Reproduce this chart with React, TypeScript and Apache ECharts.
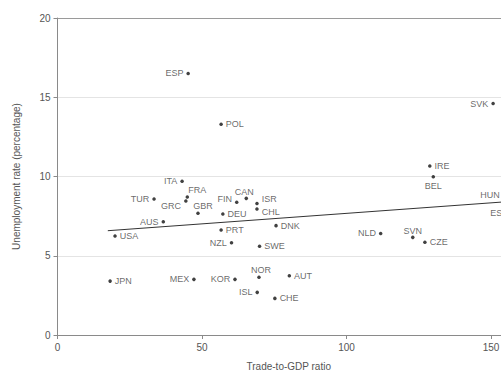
import React, { useEffect, useRef } from "react";
import * as echarts from "echarts";

// ---- Data ----
const countries = [
  "ESP", "POL", "SVK", "ITA", "FRA", "GRC", "TUR", "GBR", "AUS", "USA",
  "FIN", "CAN", "ISR", "CHL", "DEU", "PRT", "DNK", "NZL", "SWE", "JPN",
  "MEX", "KOR", "ISL", "NOR", "AUT", "CHE", "NLD", "SVN", "CZE", "IRE",
  "BEL", "HUN", "EST",
];
const tradeToGdp = [
  45.2, 56.6, 150.7, 43.1, 44.9, 44.4, 33.4, 48.6, 36.6, 19.9,
  62.0, 65.3, 69.0, 69.0, 57.2, 56.6, 75.6, 60.2, 69.9, 18.2,
  47.2, 61.4, 69.1, 69.7, 80.2, 75.2, 111.8, 122.9, 127.1, 128.8,
  130.0, 154.6, 157.4,
];
const unemployment = [
  16.5, 13.3, 14.6, 9.7, 8.7, 8.45, 8.58, 7.68, 7.15, 6.25,
  8.37, 8.62, 8.3, 7.95, 7.63, 6.62, 6.9, 5.82, 5.6, 3.4,
  3.51, 3.51, 2.69, 3.64, 3.74, 2.31, 6.41, 6.16, 5.85, 10.66,
  9.99, 8.83, 7.7,
];
const trendX = [17.4, 160];
const trendY = [6.58, 8.47];
const xTicks = { min: 0, max: 160, interval: 50 };
const yTicks = { min: 0, max: 20, interval: 5 };

// label placement (style, not data)
const labelPlacement: Record<string, { position: string; offset?: number[] }> = {
  ESP: { position: "left" },
  POL: { position: "right" },
  SVK: { position: "left" },
  ITA: { position: "left" },
  FRA: { position: "top", offset: [10, 2] },
  GRC: { position: "left", offset: [0, 5] },
  TUR: { position: "left" },
  GBR: { position: "top", offset: [5, 2] },
  AUS: { position: "left" },
  USA: { position: "right" },
  FIN: { position: "left", offset: [0, -3] },
  CAN: { position: "top", offset: [-2, 3] },
  ISR: { position: "right", offset: [0, -4] },
  CHL: { position: "right", offset: [0, 3] },
  DEU: { position: "right" },
  PRT: { position: "right" },
  DNK: { position: "right" },
  NZL: { position: "left" },
  SWE: { position: "right" },
  JPN: { position: "right" },
  MEX: { position: "left" },
  KOR: { position: "left" },
  ISL: { position: "left" },
  NOR: { position: "top", offset: [2, 2] },
  AUT: { position: "right" },
  CHE: { position: "right" },
  NLD: { position: "left" },
  SVN: { position: "top", offset: [0, 3] },
  CZE: { position: "right" },
  IRE: { position: "right" },
  BEL: { position: "bottom" },
  HUN: { position: "left" },
  EST: { position: "left" },
};

const FONT = "'Liberation Sans', Arial, Helvetica, sans-serif";

export default function App() {
  const ref = useRef<HTMLDivElement>(null);
  useEffect(() => {
    if (!ref.current) return;
    const chart = echarts.init(ref.current, undefined, { renderer: "svg" });
    const points = countries.map((c, i) => {
      const lp = labelPlacement[c] || { position: "right" };
      return {
        name: c,
        value: [tradeToGdp[i], unemployment[i]],
        label: {
          show: true,
          position: lp.position,
          offset: lp.offset || [0, 0],
          distance: 3,
        },
      };
    });
    chart.setOption({
      animation: false,
      backgroundColor: "#ffffff",
      textStyle: { fontFamily: FONT },
      grid: { left: 57.5, top: 18, bottom: 42, right: 40 },
      xAxis: [
        {
          type: "value",
          min: xTicks.min,
          max: xTicks.max,
          interval: xTicks.interval,
          name: "Trade-to-GDP ratio",
          nameLocation: "middle",
          nameGap: 26,
          nameTextStyle: { fontFamily: FONT, fontSize: 10, color: "#555" },
          axisLine: { show: true, lineStyle: { color: "#8a8a8a", width: 1 } },
          axisTick: { show: true, length: 4, lineStyle: { color: "#8a8a8a" } },
          axisLabel: {
            fontFamily: FONT,
            fontSize: 10,
            color: "#555",
            margin: 7,
            showMaxLabel: false,
          },
          splitLine: { show: false },
        },
        {
          type: "value",
          position: "top",
          min: xTicks.min,
          max: xTicks.max,
          interval: xTicks.interval,
          axisLine: { show: true, lineStyle: { color: "#9a9a9a", width: 1 } },
          axisTick: { show: false },
          axisLabel: { show: false },
          splitLine: { show: false },
        },
      ],
      yAxis: {
        type: "value",
        min: yTicks.min,
        max: yTicks.max,
        interval: yTicks.interval,
        name: "Unemployment rate (percentage)",
        nameLocation: "middle",
        nameGap: 36,
        nameTextStyle: { fontFamily: FONT, fontSize: 10, color: "#555" },
        axisLine: { show: true, lineStyle: { color: "#8a8a8a", width: 1 } },
        axisTick: { show: true, length: 4, lineStyle: { color: "#8a8a8a" } },
        axisLabel: { fontFamily: FONT, fontSize: 10, color: "#555", margin: 7 },
        splitLine: { show: true, lineStyle: { color: "#e4e4e4", width: 1 } },
      },
      series: [
        {
          type: "line",
          data: trendX.map((x, i) => [x, trendY[i]]),
          symbol: "none",
          lineStyle: { color: "#333", width: 1 },
          silent: true,
          z: 1,
        },
        {
          type: "scatter",
          data: points,
          symbolSize: 3.5,
          itemStyle: { color: "#111" },
          label: {
            show: true,
            formatter: "{b}",
            fontFamily: FONT,
            fontSize: 9,
            color: "#444",
          },
          z: 3,
        },
      ],
    });
    return () => chart.dispose();
  }, []);
  return (
    <div
      style={{
        position: "fixed",
        left: 0,
        top: 0,
        width: 501,
        height: 377,
        overflow: "hidden",
        background: "#fff",
      }}
    >
      <div ref={ref} style={{ width: 560, height: 377 }} />
    </div>
  );
}
